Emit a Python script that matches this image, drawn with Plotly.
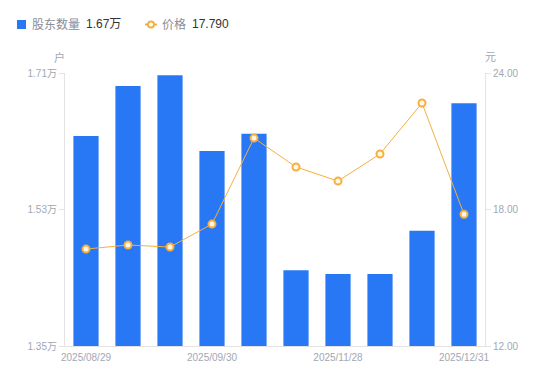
import plotly.graph_objects as go

dates = ["2025/08/29", "2025/09/10", "2025/09/19", "2025/09/30", "2025/10/20",
         "2025/10/31", "2025/11/28", "2025/12/10", "2025/12/19", "2025/12/31"]
holders = [1.627, 1.693, 1.707, 1.607, 1.630, 1.450, 1.445, 1.445, 1.502, 1.670]  # 万户
price = [16.26, 16.44, 16.35, 17.36, 21.14, 19.87, 19.25, 20.44, 22.68, 17.79]
label_dates = ["2025/08/29", "2025/09/30", "2025/11/28", "2025/12/31"]
left_ticks = [1.35, 1.53, 1.71]
right_ticks = [12, 18, 24]

FONT = "Liberation Sans, Noto Sans CJK SC, sans-serif"
BLUE = "#2878F5"
ORANGE = "#F5B041"
GREY = "#A3A6B4"
LEG_GREY = "#8a8d99"
DARK = "#333333"
AXIS = "#E3E3E3"

# page layout (browser body adds an 8px margin around the figure)
BODY = 8
PLOT_L, PLOT_R, PLOT_T, PLOT_B = 65, 485, 73, 346
W, H = 550 - BODY, 381 - BODY


def px(x):
    return (x - PLOT_L) / (PLOT_R - PLOT_L)


def py(y):
    return (PLOT_B - y) / (PLOT_B - PLOT_T)


xs = list(range(len(dates)))
label_pos = [dates.index(d) for d in label_dates]

fig = go.Figure()
fig.add_trace(go.Bar(
    x=xs, y=holders, base=0, name="股东数量",
    marker=dict(color=BLUE, line=dict(width=0)), width=0.6, yaxis="y",
))
fig.add_trace(go.Scatter(
    x=xs, y=price, mode="lines+markers", yaxis="y2", name="价格",
    line=dict(color=ORANGE, width=1),
    marker=dict(symbol="circle", size=7, color="#FFF6E6", line=dict(color=ORANGE, width=2)),
))

annotations = [
    dict(x=0, y=1, xref="paper", yref="paper", xshift=-6, yshift=16,
         text="户", showarrow=False, font=dict(size=11, color=GREY, family=FONT),
         xanchor="center", yanchor="middle"),
    dict(x=1, y=1, xref="paper", yref="paper", xshift=5, yshift=16,
         text="元", showarrow=False, font=dict(size=11, color=GREY, family=FONT),
         xanchor="center", yanchor="middle"),
]

# custom legend
LEG_Y = 24.5
leg_items = [
    (31, "股东数量", LEG_GREY),
    (85, f"{holders[-1]:.2f}万", DARK),
    (161, "价格", LEG_GREY),
    (191, f"{price[-1]:.3f}", DARK),
]
for x0, txt, col in leg_items:
    annotations.append(dict(x=px(x0), y=py(LEG_Y), xref="paper", yref="paper",
                            text=txt, showarrow=False, xanchor="left", yanchor="middle",
                            borderpad=0, font=dict(size=12, color=col, family=FONT)))

shapes = [
    dict(type="rect", xref="paper", yref="paper", x0=px(17), x1=px(26),
         y0=py(LEG_Y - 4.5), y1=py(LEG_Y + 4.5), fillcolor=BLUE, line=dict(width=0)),
    dict(type="line", xref="paper", yref="paper", x0=px(145), x1=px(157),
         y0=py(LEG_Y), y1=py(LEG_Y), line=dict(color=ORANGE, width=2)),
    dict(type="circle", xref="paper", yref="paper", x0=px(148), x1=px(154),
         y0=py(LEG_Y + 3), y1=py(LEG_Y - 3), fillcolor="white",
         line=dict(color=ORANGE, width=2)),
]

fig.update_layout(
    width=W, height=H,
    margin=dict(l=PLOT_L - BODY, r=W - (PLOT_R - BODY), t=PLOT_T - BODY,
                b=H - (PLOT_B - BODY), autoexpand=False),
    paper_bgcolor="white", plot_bgcolor="white",
    font=dict(family=FONT, size=12, color=DARK),
    showlegend=False,
    xaxis=dict(range=[-0.5, len(dates) - 0.5], tickvals=label_pos, ticktext=label_dates,
               tickfont=dict(size=10, color=GREY, family=FONT), ticklabelstandoff=2,
               showgrid=False, zeroline=False, showline=True, linecolor=AXIS, linewidth=1,
               ticks="", automargin=False),
    yaxis=dict(range=[left_ticks[0], left_ticks[-1]], tickvals=left_ticks,
               ticktext=[f"{v:.2f}万" for v in left_ticks], showgrid=False, zeroline=False,
               showline=True, linecolor=AXIS, linewidth=1, ticks="outside", ticklen=5,
               tickcolor=AXIS, tickfont=dict(size=10, color=GREY, family=FONT),
               automargin=False),
    yaxis2=dict(range=[right_ticks[0], right_ticks[-1]], tickvals=right_ticks,
                ticktext=[f"{v:.2f}" for v in right_ticks], overlaying="y", side="right",
                showgrid=False, zeroline=False, showline=True, linecolor=AXIS, linewidth=1,
                ticks="outside", ticklen=5, tickcolor=AXIS,
                tickfont=dict(size=10, color=GREY, family=FONT), automargin=False),
    annotations=annotations,
    shapes=shapes,
)

fig.write_html("out.html")
